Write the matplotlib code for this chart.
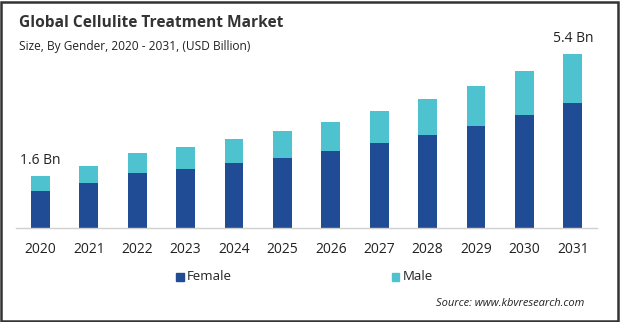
import matplotlib
matplotlib.use("Agg")
import matplotlib.pyplot as plt
from matplotlib.patches import Rectangle

# Market size by gender, USD billion
years = ["2020", "2021", "2022", "2023", "2024", "2025",
         "2026", "2027", "2028", "2029", "2030", "2031"]
female = [1.15, 1.40, 1.70, 1.82, 2.01, 2.17, 2.39, 2.64, 2.89, 3.16, 3.51, 3.89]
male = [0.45, 0.53, 0.62, 0.70, 0.75, 0.84, 0.91, 1.00, 1.11, 1.25, 1.37, 1.51]
end_labels = {0: "1.6 Bn", 11: "5.4 Bn"}

FEMALE_COLOR = "#1f4c94"
MALE_COLOR = "#4fc2cf"
TEXT_COLOR = "#222222"

plt.rcParams["font.family"] = ["Open Sans", "DejaVu Sans"]

W, H = 620, 322
fig = plt.figure(figsize=(W / 100, H / 100), dpi=100)

# plot area in pixel units
left, right = 16, 597
base_y, top_y = 227.7, 40
ax = fig.add_axes([left / W, (H - base_y) / H, (right - left) / W, (base_y - top_y) / H])

x = list(range(len(years)))
bw = 0.39
ax.bar(x, female, width=bw, color=FEMALE_COLOR, label="Female", zorder=2)
ax.bar(x, male, width=bw, bottom=female, color=MALE_COLOR, label="Male", zorder=2)

for i, txt in end_labels.items():
    total = female[i] + male[i]
    ax.annotate(txt, (x[i], total), xytext=(0, 6), textcoords="offset points",
                ha="center", va="bottom", fontsize=10, color=TEXT_COLOR)

ax.set_xlim(-0.505, 11.5)
ax.set_ylim(0, (base_y - top_y) / 32.17)
ax.set_xticks(x)
ax.set_xticklabels(years, fontsize=10, color=TEXT_COLOR)
ax.tick_params(axis="x", length=0, pad=10)
ax.set_yticks([])
for s in ("top", "right", "left"):
    ax.spines[s].set_visible(False)
ax.spines["bottom"].set_color("#d0d0d0")
ax.spines["bottom"].set_linewidth(1.0)

# titles
fig.text(19 / W, 1 - 27 / H, "Global Cellulite Treatment Market", fontsize=11.2,
         fontweight="bold", color="#333333", ha="left", va="baseline")
fig.text(19 / W, 1 - 50 / H, "Size, By Gender, 2020 - 2031, (USD Billion)", fontsize=8.6,
         color=TEXT_COLOR, ha="left", va="baseline")

# legend
for lx, name, col in [(176, "Female", FEMALE_COLOR), (392, "Male", MALE_COLOR)]:
    fig.patches.append(Rectangle((lx / W, (H - 281) / H), 7.5 / W, 8 / H,
                                 transform=fig.transFigure, color=col, figure=fig))
    fig.text((lx + 11) / W, (H - 277) / H, name, fontsize=9.5, color=TEXT_COLOR,
             ha="left", va="center")

fig.text(584 / W, (H - 304) / H, "Source: www.kbvresearch.com", fontsize=8,
         style="italic", color=TEXT_COLOR, ha="right", va="center")

# outer frame
fig.patches.append(Rectangle((0.75 / W, 0.75 / H), (W - 2.5) / W, (H - 2.5) / H,
                             transform=fig.transFigure, fill=False,
                             edgecolor="#333333", linewidth=1.8, figure=fig))

fig.savefig("out.png", dpi=100, facecolor="white")
